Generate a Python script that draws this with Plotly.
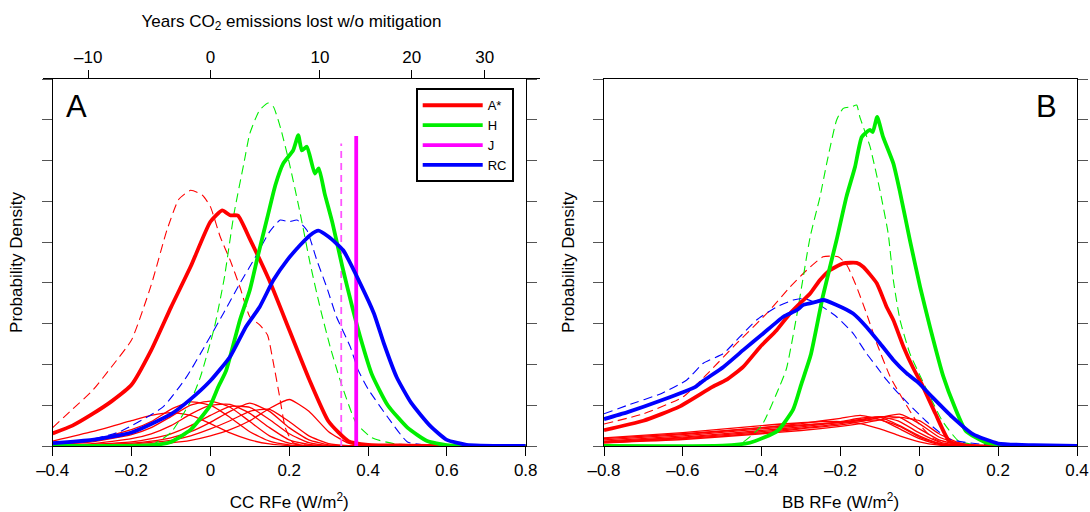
import plotly.graph_objects as go

# ---------------- panel A : CC RFe ----------------
a_red_x = [-0.4, -0.35, -0.3, -0.25, -0.2, -0.15, -0.1, -0.05, 0, 0.03, 0.05, 0.07, 0.1, 0.15, 0.2, 0.25, 0.3, 0.35, 0.4, 0.5, 0.6, 0.8]
a_red_y = [0.31, 0.5, 0.78, 1.1, 1.5, 2.35, 3.4, 4.4, 5.5, 5.78, 5.66, 5.65, 5.08, 4.05, 2.85, 1.65, 0.6, 0.12, 0.03, 0.01, 0, 0]
a_red_dash_x = [-0.4, -0.35, -0.3, -0.25, -0.2, -0.15, -0.11, -0.08, -0.05, -0.02, 0, 0.025, 0.05, 0.075, 0.1, 0.125, 0.145, 0.16, 0.175, 0.19, 0.21, 0.25, 0.4, 0.8]
a_red_dash_y = [0.45, 0.9, 1.35, 1.95, 2.6, 3.95, 5.3, 6.05, 6.27, 6.15, 5.87, 5.13, 4.56, 3.9, 3.17, 2.97, 2.72, 2.03, 1.25, 0.45, 0.08, 0.02, 0, 0]

a_green_x = [-0.4, -0.15, -0.1, -0.05, 0, 0.02, 0.04, 0.075, 0.1, 0.12, 0.145, 0.165, 0.185, 0.21, 0.223, 0.232, 0.245, 0.265, 0.275, 0.29, 0.31, 0.335, 0.36, 0.38, 0.41, 0.45, 0.5, 0.55, 0.6, 0.8]
a_green_y = [0, 0.02, 0.1, 0.4, 1.0, 1.45, 1.85, 3.09, 3.82, 4.64, 5.62, 6.4, 6.93, 7.25, 7.62, 7.25, 7.34, 6.68, 6.81, 6.19, 5.46, 4.39, 3.41, 2.68, 1.75, 1.0, 0.45, 0.12, 0.02, 0]
a_green_dash_x = [-0.4, -0.15, -0.1, -0.05, -0.025, 0.01, 0.035, 0.06, 0.085, 0.1, 0.125, 0.147, 0.16, 0.178, 0.2, 0.228, 0.253, 0.278, 0.304, 0.329, 0.37, 0.41, 0.47, 0.8]
a_green_dash_y = [0, 0.03, 0.33, 1.1, 1.7, 2.9, 4.1, 5.7, 6.93, 7.66, 8.24, 8.41, 8.32, 7.8, 6.95, 5.7, 4.48, 3.41, 2.43, 1.62, 0.56, 0.2, 0.05, 0]

a_blue_x = [-0.4, -0.3, -0.2, -0.1, -0.05, 0, 0.05, 0.09, 0.125, 0.16, 0.195, 0.228, 0.253, 0.274, 0.3, 0.337, 0.38, 0.415, 0.44, 0.473, 0.51, 0.557, 0.6, 0.65, 0.8]
a_blue_y = [0.07, 0.15, 0.33, 0.78, 1.15, 1.6, 2.19, 2.92, 3.41, 4.07, 4.56, 4.93, 5.17, 5.28, 5.13, 4.8, 3.99, 3.25, 2.52, 1.68, 1.05, 0.5, 0.15, 0.03, 0]
a_blue_dash_x = [-0.4, -0.33, -0.23, -0.12, -0.06, -0.01, 0.033, 0.075, 0.11, 0.15, 0.177, 0.2, 0.22, 0.245, 0.27, 0.295, 0.32, 0.355, 0.375, 0.4, 0.455, 0.5, 0.55, 0.8]
a_blue_dash_y = [0.05, 0.1, 0.35, 0.96, 1.7, 2.52, 3.25, 3.99, 4.56, 5.25, 5.54, 5.5, 5.54, 5.29, 4.56, 3.9, 3.17, 2.43, 1.86, 1.4, 0.64, 0.1, 0.02, 0]

# J estimates (vertical lines)
j_solid_x = [0.37, 0.37]
j_solid_y = [0, 7.6]
j_dash_x = [0.332, 0.332]
j_dash_y = [0, 7.42]

# thin red lines, A* individual members
a_thin_x = [-0.4, -0.3, -0.2, -0.15, -0.1, -0.05, 0, 0.05, 0.1, 0.15, 0.2, 0.25, 0.3, 0.35, 0.4, 0.8]
a_thin_ys = [
    [0.12, 0.35, 0.62, 0.75, 0.82, 0.75, 0.55, 0.32, 0.15, 0.05, 0.01, 0, 0, 0, 0, 0],
    [0.05, 0.15, 0.4, 0.6, 0.9, 1.08, 1.0, 0.7, 0.35, 0.12, 0.03, 0, 0, 0, 0, 0],
    [0.03, 0.1, 0.28, 0.45, 0.72, 1.0, 1.1, 0.95, 0.6, 0.25, 0.07, 0.01, 0, 0, 0, 0],
    [0.02, 0.06, 0.18, 0.3, 0.5, 0.78, 1.0, 1.02, 0.8, 0.45, 0.15, 0.04, 0, 0, 0, 0],
    [0.01, 0.04, 0.1, 0.18, 0.3, 0.5, 0.75, 0.97, 0.95, 0.65, 0.3, 0.08, 0.01, 0, 0, 0],
    [0.01, 0.03, 0.07, 0.12, 0.2, 0.35, 0.58, 0.85, 1.05, 0.85, 0.45, 0.15, 0.03, 0, 0, 0],
    [0.01, 0.02, 0.05, 0.09, 0.14, 0.25, 0.42, 0.62, 0.85, 0.9, 0.6, 0.25, 0.06, 0.01, 0, 0],
    [0, 0.01, 0.03, 0.05, 0.08, 0.14, 0.25, 0.4, 0.62, 0.92, 1.14, 0.85, 0.35, 0.07, 0.01, 0],
]

# ---------------- panel B : BB RFe ----------------
b_red_x = [-0.8, -0.7, -0.61, -0.525, -0.49, -0.447, -0.404, -0.362, -0.328, -0.294, -0.277, -0.252, -0.227, -0.193, -0.159, -0.142, -0.108, -0.083, -0.066, -0.04, -0.015, 0.007, 0.041, 0.076, 0.12, 0.4]
b_red_y = [0.39, 0.62, 0.96, 1.45, 1.62, 1.94, 2.43, 2.84, 3.25, 3.58, 3.74, 4.07, 4.31, 4.48, 4.49, 4.39, 3.99, 3.41, 3.09, 2.43, 1.9, 1.5, 0.79, 0.12, 0.01, 0]
b_red_dash_x = [-0.8, -0.7, -0.6, -0.54, -0.463, -0.387, -0.328, -0.286, -0.244, -0.206, -0.184, -0.159, -0.134, -0.108, -0.074, -0.045, -0.01, 0.033, 0.08, 0.4]
b_red_dash_y = [0.54, 0.79, 1.2, 1.75, 2.52, 3.25, 3.9, 4.31, 4.64, 4.64, 4.44, 3.9, 3.25, 2.52, 1.7, 1.2, 0.65, 0.2, 0.03, 0]

b_green_x = [-0.8, -0.5, -0.43, -0.36, -0.32, -0.3, -0.275, -0.245, -0.21, -0.185, -0.163, -0.146, -0.125, -0.118, -0.107, -0.092, -0.066, -0.05, -0.024, 0.002, 0.027, 0.061, 0.09, 0.118, 0.17, 0.25, 0.4]
b_green_y = [0, 0.01, 0.08, 0.37, 0.9, 1.5, 2.25, 3.66, 5.05, 6.11, 6.85, 7.58, 7.75, 7.7, 8.07, 7.58, 6.93, 6.27, 5.05, 3.9, 2.92, 1.7, 0.95, 0.37, 0.08, 0.01, 0]
b_green_dash_x = [-0.8, -0.5, -0.45, -0.4, -0.355, -0.337, -0.31, -0.277, -0.252, -0.235, -0.21, -0.193, -0.172, -0.159, -0.151, -0.125, -0.1, -0.079, -0.066, -0.049, -0.024, 0.007, 0.058, 0.1, 0.15, 0.4]
b_green_dash_y = [0, 0.01, 0.08, 0.5, 1.45, 1.9, 3.25, 5.13, 6.11, 6.93, 7.99, 8.28, 8.32, 8.36, 8.07, 7.34, 6.27, 5.21, 4.07, 3.09, 2.27, 1.62, 0.62, 0.12, 0.02, 0]

b_blue_x = [-0.8, -0.74, -0.654, -0.568, -0.548, -0.497, -0.447, -0.396, -0.345, -0.311, -0.294, -0.26, -0.244, -0.21, -0.168, -0.134, -0.1, -0.066, -0.032, -0.002, 0.033, 0.084, 0.136, 0.2, 0.29, 0.4]
b_blue_y = [0.66, 0.83, 1.12, 1.45, 1.6, 1.94, 2.35, 2.76, 3.17, 3.33, 3.46, 3.54, 3.58, 3.46, 3.25, 2.92, 2.52, 2.11, 1.78, 1.55, 1.2, 0.71, 0.29, 0.06, 0.02, 0]
b_blue_dash_x = [-0.8, -0.74, -0.654, -0.59, -0.548, -0.497, -0.455, -0.413, -0.362, -0.32, -0.294, -0.26, -0.21, -0.168, -0.134, -0.108, -0.083, -0.053, 0.016, 0.076, 0.16, 0.4]
b_blue_dash_y = [0.79, 1.0, 1.29, 1.62, 2.03, 2.27, 2.68, 3.09, 3.41, 3.58, 3.62, 3.5, 3.17, 2.76, 2.27, 1.94, 1.62, 1.29, 0.62, 0.17, 0.04, 0]

b_thin_x = [-0.8, -0.6, -0.4, -0.3, -0.2, -0.15, -0.1, -0.05, 0, 0.05, 0.1, 0.15, 0.4]
b_thin_ys = [
    [0.2, 0.33, 0.5, 0.57, 0.6, 0.55, 0.42, 0.25, 0.1, 0.02, 0, 0, 0],
    [0.15, 0.28, 0.45, 0.55, 0.68, 0.75, 0.65, 0.42, 0.18, 0.04, 0.01, 0, 0],
    [0.12, 0.25, 0.42, 0.5, 0.6, 0.68, 0.7, 0.5, 0.25, 0.07, 0.01, 0, 0],
    [0.1, 0.22, 0.38, 0.47, 0.58, 0.65, 0.72, 0.6, 0.32, 0.1, 0.02, 0, 0],
    [0.1, 0.2, 0.35, 0.44, 0.55, 0.63, 0.72, 0.7, 0.42, 0.15, 0.03, 0, 0],
    [0.08, 0.18, 0.32, 0.42, 0.52, 0.6, 0.7, 0.78, 0.55, 0.22, 0.05, 0.01, 0],
    [0.08, 0.16, 0.3, 0.38, 0.48, 0.55, 0.64, 0.7, 0.62, 0.3, 0.08, 0.01, 0],
    [0.18, 0.3, 0.45, 0.52, 0.58, 0.62, 0.64, 0.48, 0.22, 0.06, 0.01, 0, 0],
]

# top axis of panel A: years of CO2 emissions, placed at their CC RFe equivalent
years_labels = ["–10", "0", "10", "20", "30"]
years_rfe = [-0.31, 0.0, 0.278, 0.511, 0.696]

RED, GREEN, MAG, BLUE = "#ff0000", "#00ee00", "#ff00ff", "#0000ff"
FONT = "Liberation Sans, Arial, sans-serif"
DASH = "9px,5px"

# figure size and fixed margins (pixels); body margin is zeroed in the page
W, H = 1090, 512
ML, MR, MT, MB = 30, 4, 40, 40
PW, PH = W - ML - MR, H - MT - MB


def fx(px):
    # screen pixel -> plot-area fraction (horizontal)
    return (px - ML) / PW


def fy(py):
    # screen pixel -> plot-area fraction (vertical)
    return (H - MB - py) / PH


fig = go.Figure()


def add(x, y, color, width, dash="solid", xa="x", ya="y", name=None, shape="spline"):
    fig.add_trace(go.Scatter(
        x=x, y=y, mode="lines", xaxis=xa, yaxis=ya,
        line=dict(color=color, width=width, dash=dash, shape=shape, smoothing=0.5),
        name=name, showlegend=name is not None, hoverinfo="skip",
    ))


# panel A
for ys in a_thin_ys:
    add(a_thin_x, ys, RED, 1.3)
add(a_red_dash_x, a_red_dash_y, RED, 1.1, DASH)
add(a_green_dash_x, a_green_dash_y, GREEN, 1.1, DASH)
add(a_blue_dash_x, a_blue_dash_y, BLUE, 1.1, DASH)
add(j_dash_x, j_dash_y, "#ff55ff", 1.8, "7px,5px", shape="linear")
add(a_red_x, a_red_y, RED, 3.8, name="A*")
add(a_green_x, a_green_y, GREEN, 3.8, name="H")
add(j_solid_x, j_solid_y, MAG, 3.8, name="J", shape="linear")
add(a_blue_x, a_blue_y, BLUE, 3.8, name="RC")

# invisible trace so that the years axis gets drawn
fig.add_trace(go.Scatter(x=[years_rfe[0], years_rfe[-1]], y=[0, 0], xaxis="x3", yaxis="y3",
                         mode="lines", line=dict(width=0), opacity=0,
                         showlegend=False, hoverinfo="skip"))

# panel B
for ys in b_thin_ys:
    add(b_thin_x, ys, RED, 1.3, xa="x2", ya="y2")
add(b_red_dash_x, b_red_dash_y, RED, 1.1, DASH, "x2", "y2")
add(b_green_dash_x, b_green_dash_y, GREEN, 1.1, DASH, "x2", "y2")
add(b_blue_dash_x, b_blue_dash_y, BLUE, 1.1, DASH, "x2", "y2")
add(b_red_x, b_red_y, RED, 3.8, xa="x2", ya="y2")
add(b_green_x, b_green_y, GREEN, 3.8, xa="x2", ya="y2")
add(b_blue_x, b_blue_y, BLUE, 3.8, xa="x2", ya="y2")

ydom = [fy(446), fy(79)]
tickfont = dict(family=FONT, size=17, color="black")

xcommon = dict(showline=True, linecolor="black", linewidth=1, mirror=True,
               ticks="outside", ticklen=9, tickcolor="black", showgrid=False,
               zeroline=False, tickfont=tickfont, automargin=False)
ycommon = dict(range=[0, 9], tickvals=list(range(10)), showticklabels=False,
               showline=True, linecolor="black", linewidth=1, mirror="ticks",
               ticks="outside", ticklen=10, tickcolor="#555555", showgrid=False,
               zeroline=False, automargin=False,
               title=dict(text="Probability Density", standoff=14,
                          font=dict(family=FONT, size=17, color="black")))

a_ticks = [-0.4, -0.2, 0, 0.2, 0.4, 0.6, 0.8]
b_ticks = [-0.8, -0.6, -0.4, -0.2, 0, 0.2, 0.4]


def lab(v):
    s = f"{abs(v):g}"
    return ("–" + s) if v < 0 else s


fig.update_layout(
    width=W, height=H, margin=dict(l=ML, r=MR, t=MT, b=MB, autoexpand=False),
    paper_bgcolor="white", plot_bgcolor="rgba(0,0,0,0)",
    font=dict(family=FONT, color="black"),
    xaxis=dict(xcommon, domain=[fx(52.7), fx(525.7)], range=[-0.4, 0.8], anchor="y",
               tickvals=a_ticks, ticktext=[lab(v) for v in a_ticks],
               title=dict(text="CC RFe (W/m<sup>2</sup>)", standoff=16,
                          font=dict(family=FONT, size=17))),
    yaxis=dict(ycommon, domain=ydom, anchor="x"),
    xaxis2=dict(xcommon, domain=[fx(604), fx(1077)], range=[-0.8, 0.4], anchor="y2",
                tickvals=b_ticks, ticktext=[lab(v) for v in b_ticks],
                title=dict(text="BB RFe (W/m<sup>2</sup>)", standoff=16,
                           font=dict(family=FONT, size=17))),
    yaxis2=dict(ycommon, domain=ydom, anchor="x2"),
    xaxis3=dict(domain=[fx(43), fx(540)], range=[-0.4 - 9.7 / 394.2, 0.8 + 14.3 / 394.2],
                anchor="y3", side="top", automargin=False,
                showline=True, linecolor="black", linewidth=1, ticks="outside",
                ticklen=8, tickcolor="black", showgrid=False, zeroline=False,
                tickvals=years_rfe, ticktext=years_labels, tickfont=tickfont,
                title=dict(text="Years CO<sub>2</sub> emissions lost w/o mitigation",
                           font=dict(family=FONT, size=17), standoff=16)),
    yaxis3=dict(domain=ydom, range=[0, 9], anchor="x3", visible=False),
    legend=dict(x=fx(415.7), y=fy(88.3), xanchor="left", yanchor="top",
                bordercolor="black", borderwidth=2, bgcolor="white",
                font=dict(family=FONT, size=13, color="black"),
                itemwidth=60, tracegroupgap=0),
    annotations=[
        dict(text="A", x=fx(76.7), y=fy(106), xref="paper", yref="paper",
             xanchor="center", yanchor="middle", showarrow=False,
             font=dict(family=FONT, size=31, color="black")),
        dict(text="B", x=fx(1046.7), y=fy(106), xref="paper", yref="paper",
             xanchor="center", yanchor="middle", showarrow=False,
             font=dict(family=FONT, size=31, color="black")),
    ],
)

fig.write_html("out.html", config={"displayModeBar": False},
               post_script="document.body.style.margin='0';document.body.style.overflow='hidden';")
